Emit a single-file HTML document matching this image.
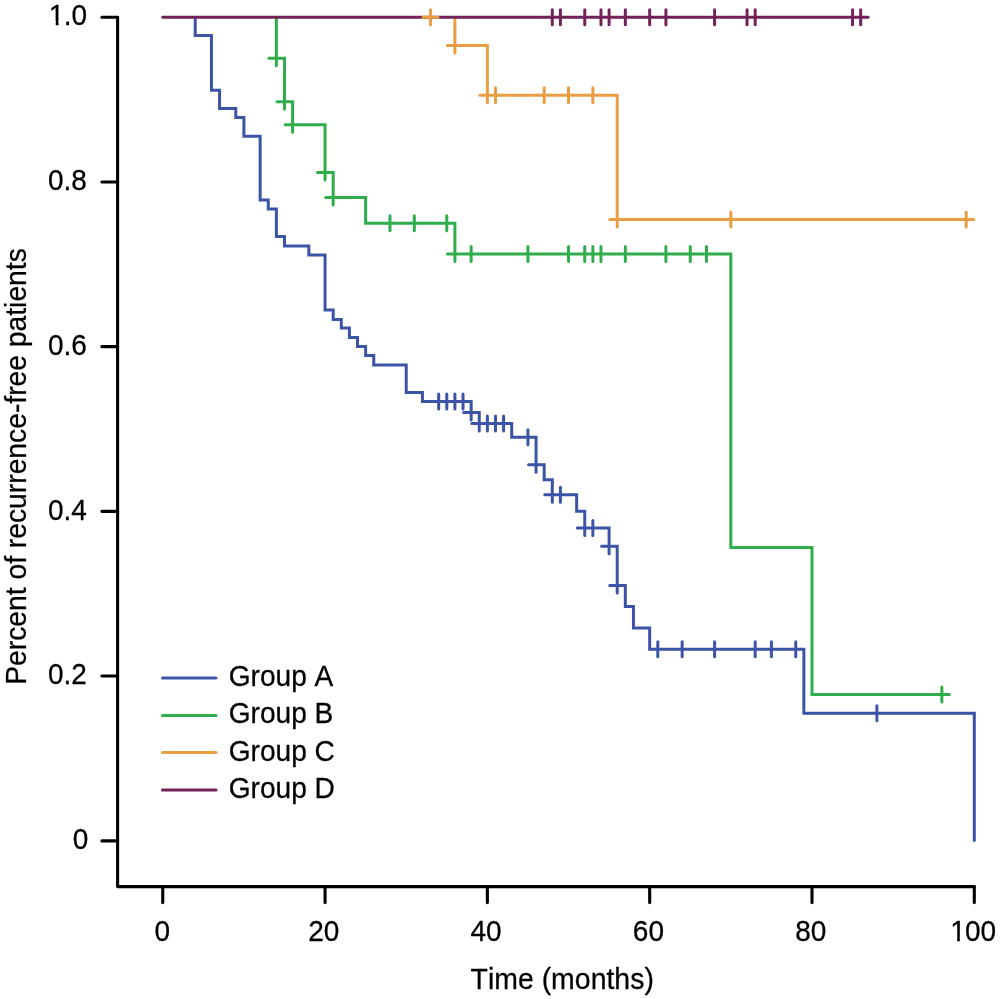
<!DOCTYPE html>
<html lang="en">
<head>
<meta charset="utf-8">
<title>Recurrence-free survival</title>
<style>
html,body{margin:0;padding:0;background:#fff;}
body{width:1000px;height:999px;overflow:hidden;}
svg{display:block;}
</style>
</head>
<body>
<svg width="1000" height="999" viewBox="0 0 1000 999" role="img" aria-label="Kaplan-Meier curves of recurrence-free patients by group">
<rect width="1000" height="999" fill="#fff"/>
<g fill="none" stroke="#000" stroke-width="3.1" stroke-linecap="round" stroke-linejoin="round">
<path d="M117.6 17.3V886.6H974.3"/>
<path d="M101.9 17.3H117.6M101.9 181.98H117.6M101.9 346.66H117.6M101.9 511.34H117.6M101.9 676.02H117.6M101.9 840.9H117.6M162.75 886.6V902.6M325.06 886.6V902.6M487.37 886.6V902.6M649.68 886.6V902.6M811.99 886.6V902.6M974.3 886.6V902.6"/>
</g>
<g fill="none" stroke-width="3.0" stroke-linecap="round" stroke-linejoin="miter">
<path stroke="#3b54a5" d="M195.21 18.3H195.21V35.5H211.44V90.3H219.56V108.6H235.79V117.4H243.91V136.2H260.14V200H268.25V209H276.37V236.4H284.48V246H308.83V255H325.06V310H333.18V319.4H341.29V328H349.41V337.4H357.52V346.6H365.64V355.6H373.75V365H406.22V392.4H422.45V401.4H471.14V412.5H479.25V423.5H511.72V437.2H536.06V464.8H544.18V479.8H552.29V494.8H576.64V511.2H584.76V528H609.1V546.2H617.22V585.5H625.33V606.5H633.45V628H649.68V649.2H803.87V713.2H974.3V840.4M431.18 401.4H446.18M438.68 393.9V408.9M439.29 401.4H454.29M446.79 393.9V408.9M447.41 401.4H462.41M454.91 393.9V408.9M455.52 401.4H470.52M463.02 393.9V408.9M463.64 412.5H478.64M471.14 405.0V420.0M471.75 423.5H486.75M479.25 416.0V431.0M479.87 423.5H494.87M487.37 416.0V431.0M487.99 423.5H502.99M495.49 416.0V431.0M496.1 423.5H511.1M503.6 416.0V431.0M520.45 437.2H535.45M527.95 429.7V444.7M528.56 464.8H543.56M536.06 457.3V472.3M544.79 494.8H559.79M552.29 487.3V502.3M552.91 494.8H567.91M560.41 487.3V502.3M577.26 528H592.26M584.76 520.5V535.5M585.37 528H600.37M592.87 520.5V535.5M601.6 546.2H616.6M609.1 538.7V553.7M609.72 585.5H624.72M617.22 578.0V593.0M650.3 649.2H665.3M657.8 641.7V656.7M674.64 649.2H689.64M682.14 641.7V656.7M707.1 649.2H722.1M714.6 641.7V656.7M747.68 649.2H762.68M755.18 641.7V656.7M763.91 649.2H778.91M771.41 641.7V656.7M788.26 649.2H803.26M795.76 641.7V656.7M869.41 713.2H884.41M876.91 705.7V720.7"/>
<path stroke="#2fae4b" d="M276.37 18.3H276.37V58.2H284.48V101.8H292.6V124.8H325.06V172.6H333.18V197.4H365.64V223.3H454.91V254H730.84V547.4H811.99V694.4H941.84M268.87 58.2H283.87M276.37 50.7V65.7M276.98 101.8H291.98M284.48 94.3V109.3M285.1 124.8H300.1M292.6 117.3V132.3M317.56 172.6H332.56M325.06 165.1V180.1M325.68 197.4H340.68M333.18 189.9V204.9M382.48 223.3H397.48M389.98 215.8V230.8M406.83 223.3H421.83M414.33 215.8V230.8M439.29 223.3H454.29M446.79 215.8V230.8M447.41 254H462.41M454.91 246.5V261.5M463.64 254H478.64M471.14 246.5V261.5M520.45 254H535.45M527.95 246.5V261.5M561.03 254H576.03M568.53 246.5V261.5M577.26 254H592.26M584.76 246.5V261.5M585.37 254H600.37M592.87 246.5V261.5M593.49 254H608.49M600.99 246.5V261.5M617.83 254H632.83M625.33 246.5V261.5M658.41 254H673.41M665.91 246.5V261.5M682.76 254H697.76M690.26 246.5V261.5M698.99 254H713.99M706.49 246.5V261.5M934.34 694.4H949.34M941.84 686.9V701.9"/>
<path stroke="#e99e43" d="M454.91 18.3H454.91V45.6H487.37V95.2H617.22V219.4H966.18M447.41 45.6H462.41M454.91 38.1V53.1M479.87 95.2H494.87M487.37 87.7V102.7M487.99 95.2H502.99M495.49 87.7V102.7M536.68 95.2H551.68M544.18 87.7V102.7M561.03 95.2H576.03M568.53 87.7V102.7M585.37 95.2H600.37M592.87 87.7V102.7M609.72 219.4H624.72M617.22 211.9V226.9M723.34 219.4H738.34M730.84 211.9V226.9M958.68 219.4H973.68M966.18 211.9V226.9"/>
<path stroke="#722159" d="M162.75 17.3H860.68M544.79 17.3H559.79M552.29 9.8V24.8M552.91 17.3H567.91M560.41 9.8V24.8M577.26 17.3H592.26M584.76 9.8V24.8M593.49 17.3H608.49M600.99 9.8V24.8M601.6 17.3H616.6M609.1 9.8V24.8M617.83 17.3H632.83M625.33 9.8V24.8M642.18 17.3H657.18M649.68 9.8V24.8M658.41 17.3H673.41M665.91 9.8V24.8M707.1 17.3H722.1M714.6 9.8V24.8M739.57 17.3H754.57M747.07 9.8V24.8M747.68 17.3H762.68M755.18 9.8V24.8M845.07 17.3H860.07M852.57 9.8V24.8M853.18 17.3H868.18M860.68 9.8V24.8"/>
<path stroke="#e99e43" d="M423.06 17.3H438.06M430.56 9.8V24.8"/>
<path stroke="#3b54a5" d="M162.5 678.1H216"/>
<path stroke="#2fae4b" d="M162.5 715.4H216"/>
<path stroke="#e99e43" d="M162.5 752.6H216"/>
<path stroke="#722159" d="M162.5 790H216"/>
</g>
<g font-family="'Liberation Sans', sans-serif" font-size="28.7" fill="#000" stroke="#000" stroke-width="0.25" stroke-linejoin="round" style="font-kerning:none">
<g transform="translate(48.85 24.6) scale(1 1.08)"><text font-size="28">1<tspan dx="-0.75">.0</tspan></text><rect x="0.93" y="-3.39" width="5.96" height="4.99" fill="#fff" stroke="none"/><rect x="9.67" y="-3.39" width="5.74" height="4.99" fill="#fff" stroke="none"/></g>
<text transform="translate(86.8 190.3) scale(1 1.08)" text-anchor="end" font-size="28">0.8</text>
<text transform="translate(86.8 354.6) scale(1 1.08)" text-anchor="end" font-size="28">0.6</text>
<text transform="translate(86.8 520.0) scale(1 1.08)" text-anchor="end" font-size="28">0.4</text>
<text transform="translate(86.8 684.2) scale(1 1.08)" text-anchor="end" font-size="28">0.2</text>
<text transform="translate(88.4 849.3) scale(1 1.08)" text-anchor="end" font-size="28">0</text>
<text transform="translate(162.25 940.8) scale(1 1.08)" text-anchor="middle" font-size="28">0</text>
<text transform="translate(323.76 940.8) scale(1 1.08)" text-anchor="middle" font-size="28">20</text>
<text transform="translate(486.07 940.8) scale(1 1.08)" text-anchor="middle" font-size="28">40</text>
<text transform="translate(648.38 940.8) scale(1 1.08)" text-anchor="middle" font-size="28">60</text>
<text transform="translate(810.79 940.8) scale(1 1.08)" text-anchor="middle" font-size="28">80</text>
<g transform="translate(950.2 940.8) scale(1 1.08)"><text font-size="28">1<tspan dx="-0.75">00</tspan></text><rect x="0.93" y="-3.39" width="5.96" height="4.99" fill="#fff" stroke="none"/><rect x="9.67" y="-3.39" width="5.74" height="4.99" fill="#fff" stroke="none"/></g>
<text transform="translate(562.2 988.6) scale(1 1.025)" text-anchor="middle" font-size="28.45">Time (months)</text>
<text transform="translate(25.5 466.5) rotate(-90) scale(1 1.025)" text-anchor="middle" font-size="28.27">Percent of recurrence-free patients</text>
<text transform="translate(228.7 686) scale(1 1.04)" text-anchor="start" font-size="28.1">Group A</text>
<text transform="translate(228.7 723.3) scale(1 1.04)" text-anchor="start" font-size="28.1">Group B</text>
<text transform="translate(228.7 760.7) scale(1 1.04)" text-anchor="start" font-size="28.1">Group C</text>
<text transform="translate(228.7 798) scale(1 1.04)" text-anchor="start" font-size="28.1">Group D</text>
</g>
</svg>
</body>
</html>
